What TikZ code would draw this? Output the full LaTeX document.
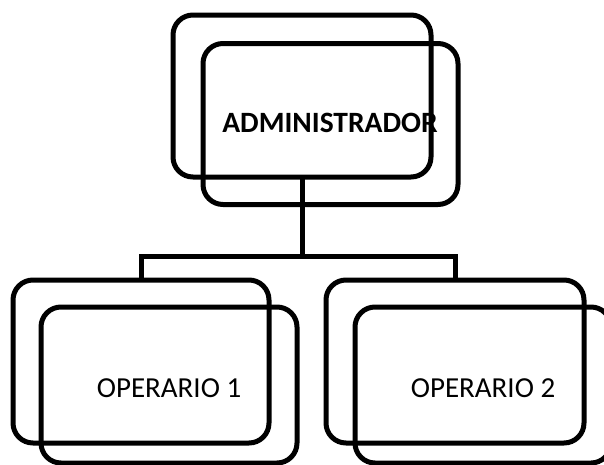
\documentclass[tikz,border=0pt]{standalone}
\usepackage{fontspec}
\setmainfont{Carlito}
\begin{document}
\begin{tikzpicture}[x=1pt,y=-1pt,
  box/.style={draw,line width=5pt,rounded corners=20pt,inner sep=0pt,outer sep=0pt},
  conn/.style={line width=5pt},
  lbl/.style={inner sep=0pt,font=\fontsize{29}{34}\selectfont}]
\useasboundingbox (0,0) rectangle (604,464);
\node[box,minimum width=258pt,minimum height=162pt] (tb) at (302,96) {};
\node[box,minimum width=255pt,minimum height=161pt] (tf) at (330.5,124) {};
\node[box,minimum width=256pt,minimum height=163pt] (lb) at (141,361.5) {};
\node[box,minimum width=256pt,minimum height=156pt] (lf) at (169,385) {};
\node[box,minimum width=258pt,minimum height=163pt] (rb) at (455,361.5) {};
\node[box,minimum width=256pt,minimum height=156pt] (rf) at (483,385) {};
\coordinate (j) at (302,256);
\draw[conn] (tb.south) -- (j);
\draw[conn] (lb.north) |- (j) -| (rb.north);
\node[lbl,font=\fontsize{29.5}{34}\selectfont\bfseries] (ta) at (330,123) {ADMINISTRADOR};
\node[lbl] (t1) at (169,388) {OPERARIO 1};
\node[lbl] (t2) at (483,388) {OPERARIO 2};
\end{tikzpicture}
\end{document}
